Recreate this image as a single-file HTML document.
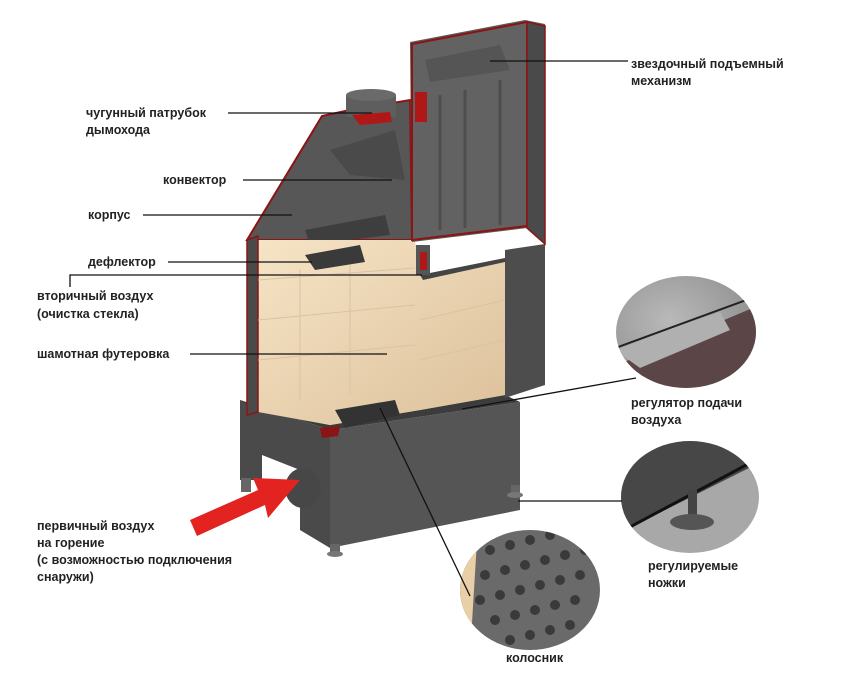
<!DOCTYPE html>
<html><head><meta charset="utf-8"><style>
html,body{margin:0;padding:0;background:#fff;}
svg{display:block}
text{font-family:"Liberation Sans",sans-serif;font-weight:bold;font-size:12.5px;fill:#222}
</style></head><body>
<svg width="868" height="681" viewBox="0 0 868 681">
<defs>
<radialGradient id="c1" cx="0.4" cy="0.4" r="0.7"><stop offset="0" stop-color="#b9b9b9"/><stop offset="1" stop-color="#8a8a8a"/></radialGradient>
<linearGradient id="fb" x1="0" y1="0" x2="1" y2="1"><stop offset="0" stop-color="#f6e4c6"/><stop offset="1" stop-color="#dcc09a"/></linearGradient>
<clipPath id="k1"><ellipse cx="686" cy="332" rx="70" ry="56"/></clipPath>
<clipPath id="k2"><ellipse cx="690" cy="497" rx="69" ry="56"/></clipPath>
<clipPath id="k3"><ellipse cx="530" cy="590" rx="70" ry="60"/></clipPath>
</defs>
<!-- base -->
<polygon points="240,400 330,430 330,548 300,530 300,470 262,455 262,480 240,480" fill="#4a4a4a"/>
<polygon points="330,430 520,402 520,510 330,548" fill="#555"/>
<polygon points="240,400 330,430 520,402 505,395 420,410 330,425 258,410" fill="#3c3c3c"/>
<ellipse cx="303" cy="488" rx="18" ry="20" fill="#474747"/>
<rect x="241" y="478" width="10" height="14" fill="#666"/>
<rect x="330" y="544" width="10" height="8" fill="#666"/><ellipse cx="335" cy="554" rx="8" ry="3" fill="#777"/>
<rect x="511" y="485" width="9" height="8" fill="#666"/><ellipse cx="515" cy="495" rx="8" ry="3" fill="#777"/>
<!-- hood -->
<polygon points="247,240 322,116 350,110 410,100 412,240" fill="#575757" stroke="#8b1414" stroke-width="2"/>
<polygon points="330,150 395,130 405,180 350,175" fill="#4a4a4a"/>
<polygon points="305,230 385,215 390,235 310,245" fill="#3e3e3e"/>
<rect x="346" y="95" width="50" height="22" fill="#5e5e5e"/>
<ellipse cx="371" cy="95" rx="25" ry="6" fill="#6a6a6a"/>
<polygon points="352,115 390,112 392,122 360,125" fill="#b01818"/>
<!-- firebox -->
<polygon points="258,240 415,240 420,275 505,258 505,395 420,410 330,425 258,412" fill="url(#fb)"/>
<polygon points="247,240 258,236 258,412 247,415" fill="#4a4a4a" stroke="#8b1414" stroke-width="1.5"/>
<g stroke="#d9c3a0" stroke-width="1" fill="none">
<path d="M258,280 L415,268 M258,320 L415,305 M258,360 L415,345 M300,270 L300,400 M350,265 L350,395 M420,320 L505,300 M420,360 L505,340"/>
</g>
<polygon points="305,255 360,245 365,262 315,270" fill="#3a3a3a"/>
<polygon points="335,410 395,400 400,415 345,428" fill="#333"/>
<polygon points="320,428 340,426 338,436 322,438" fill="#8b1414"/>
<!-- right frame -->
<polygon points="505,250 545,244 545,385 505,398" fill="#4d4d4d"/>
<polygon points="420,275 505,258 505,262 423,280" fill="#444"/>
<!-- tall panel -->
<polygon points="410,42 525,20 545,24 545,244 527,228 412,242" fill="#5a5a5a"/>
<polygon points="412,44 527,22 527,226 412,240" fill="#626262" stroke="#8b1414" stroke-width="2"/>
<polygon points="527,22 545,26 545,244 527,228" fill="#4a4a4a" stroke="#8b1414" stroke-width="1.5"/>
<g stroke="#4e4e4e" stroke-width="3"><line x1="440" y1="95" x2="440" y2="230"/><line x1="465" y1="90" x2="465" y2="228"/><line x1="500" y1="80" x2="500" y2="225"/></g>
<polygon points="425,60 500,45 510,70 430,82" fill="#555"/>
<rect x="415" y="92" width="12" height="30" fill="#b01818"/>
<rect x="416" y="245" width="14" height="30" fill="#555"/>
<rect x="420" y="252" width="7" height="18" fill="#b01818"/>
<!-- red arrow -->
<polygon points="190,520 258,490 253,478 300,480 268,518 265,505 197,536" fill="#e3231f"/>
<!-- circles -->
<g clip-path="url(#k1)"><rect x="610" y="270" width="150" height="125" fill="url(#c1)"/>
<polygon points="610,368 760,305 760,400 610,400" fill="#5b4546"/>
<polygon points="615,350 720,312 730,330 640,368" fill="#b0b0b0"/>
<line x1="610" y1="350" x2="760" y2="295" stroke="#222" stroke-width="2"/></g>
<g clip-path="url(#k2)"><rect x="615" y="438" width="150" height="120" fill="#a8a8a8"/>
<polygon points="615,438 765,438 765,460 615,535" fill="#474747"/>
<line x1="615" y1="535" x2="765" y2="455" stroke="#111" stroke-width="3"/>
<rect x="688" y="490" width="9" height="25" fill="#444"/><ellipse cx="692" cy="522" rx="22" ry="8" fill="#555"/></g>
<g clip-path="url(#k3)"><rect x="455" y="525" width="150" height="130" fill="#6a6a6a"/>
<g fill="#3a3a3a">
<circle cx="490" cy="550" r="5"/><circle cx="510" cy="545" r="5"/><circle cx="530" cy="540" r="5"/><circle cx="550" cy="535" r="5"/><circle cx="570" cy="530" r="5"/>
<circle cx="485" cy="575" r="5"/><circle cx="505" cy="570" r="5"/><circle cx="525" cy="565" r="5"/><circle cx="545" cy="560" r="5"/><circle cx="565" cy="555" r="5"/><circle cx="585" cy="550" r="5"/>
<circle cx="480" cy="600" r="5"/><circle cx="500" cy="595" r="5"/><circle cx="520" cy="590" r="5"/><circle cx="540" cy="585" r="5"/><circle cx="560" cy="580" r="5"/><circle cx="580" cy="575" r="5"/>
<circle cx="495" cy="620" r="5"/><circle cx="515" cy="615" r="5"/><circle cx="535" cy="610" r="5"/><circle cx="555" cy="605" r="5"/><circle cx="575" cy="600" r="5"/>
<circle cx="510" cy="640" r="5"/><circle cx="530" cy="635" r="5"/><circle cx="550" cy="630" r="5"/><circle cx="570" cy="625" r="5"/></g>
<polygon points="458,525 478,525 470,655 458,655" fill="#e8cfa8"/></g>
<!-- leader lines -->
<g stroke="#111" stroke-width="1.3" fill="none">
<line x1="228" y1="113" x2="372" y2="113"/>
<line x1="243" y1="180" x2="392" y2="180"/>
<line x1="143" y1="215" x2="292" y2="215"/>
<line x1="168" y1="262" x2="312" y2="262"/>
<polyline points="70,287 70,275 422,275"/>
<line x1="190" y1="354" x2="387" y2="354"/>
<line x1="490" y1="61" x2="628" y2="61"/>
<line x1="462" y1="409" x2="636" y2="378"/>
<line x1="518" y1="501" x2="622" y2="501"/>
<line x1="380" y1="408" x2="470" y2="596"/>
</g>
<!-- labels -->
<text x="86" y="117">чугунный патрубок</text><text x="86" y="134">дымохода</text>
<text x="163" y="184">конвектор</text>
<text x="88" y="219">корпус</text>
<text x="88" y="266">дефлектор</text>
<text x="37" y="300">вторичный воздух</text><text x="37" y="318">(очистка стекла)</text>
<text x="37" y="358">шамотная футеровка</text>
<text x="631" y="68">звездочный подъемный</text><text x="631" y="85">механизм</text>
<text x="631" y="407">регулятор подачи</text><text x="631" y="424">воздуха</text>
<text x="648" y="570">регулируемые</text><text x="648" y="587">ножки</text>
<text x="37" y="530">первичный воздух</text><text x="37" y="547">на горение</text>
<text x="37" y="564">(с возможностью подключения</text><text x="37" y="581">снаружи)</text>
<text x="506" y="662">колосник</text>
</svg>
</body></html>
